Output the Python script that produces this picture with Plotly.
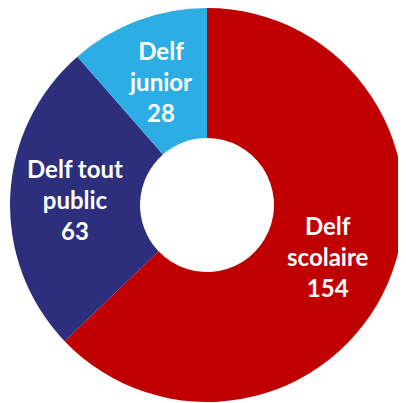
import math
import plotly.graph_objects as go

labels = ["Delf<br>scolaire", "Delf tout<br>public", "Delf<br>junior"]
values = [154, 63, 28]
colors = ["#C00000", "#2D2E7C", "#2CAEE4"]

W, H = 406, 403
HOLE = 0.34
DOM_X = [0.0049, 0.9754]
DOM_Y = [0.0223, 1.0]

fig = go.Figure(go.Pie(
    labels=labels,
    values=values,
    hole=HOLE,
    sort=False,
    direction="clockwise",
    rotation=0,
    marker=dict(colors=colors, line=dict(width=0)),
    textinfo="none",
    domain=dict(x=DOM_X, y=DOM_Y),
    showlegend=False,
    hoverinfo="label+value",
))

# Labels placed at the ring midpoint along each slice's bisector (derived from values)
cx = (DOM_X[0] + DOM_X[1]) / 2 * W
cy = (DOM_Y[0] + DOM_Y[1]) / 2 * H
R = min((DOM_X[1] - DOM_X[0]) * W, (DOM_Y[1] - DOM_Y[0]) * H) / 2
r_lab = R * (1 + HOLE) / 2
total = sum(values)
cum = 0
annotations = []
for lab, v in zip(labels, values):
    mid = (cum + v / 2) / total * 2 * math.pi
    cum += v
    x = (cx + r_lab * math.sin(mid)) / W
    y = (cy + r_lab * math.cos(mid)) / H
    annotations.append(dict(
        x=x, y=y, xref="paper", yref="paper", xanchor="center", yanchor="middle",
        text=f"{lab}<br>{v}", showarrow=False, align="center",
        font=dict(family="Lato", size=24, color="white", weight="bold"),
    ))

fig.update_layout(
    width=W, height=H,
    margin=dict(l=0, r=0, t=0, b=0),
    paper_bgcolor="white",
    annotations=annotations,
)

fig.write_html("out.html")
